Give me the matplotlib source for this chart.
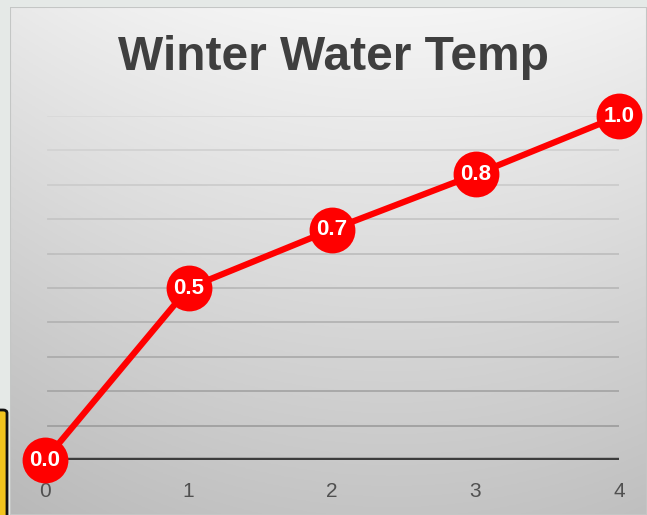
import matplotlib.pyplot as plt
import numpy as np
from matplotlib.patches import FancyBboxPatch, Rectangle

# data
weeks = [0, 1, 2, 3, 4]
temps = [0.0, 0.5, 0.67, 0.83, 1.0]
tick_labels = ['0', '1', '2', '3', '4']
title = 'Winter Water Temp'

W, H = 647, 515
fig = plt.figure(figsize=(W / 100, H / 100), dpi=100)
fig.patch.set_facecolor('#e5e9e7')

# slide panel with soft gradient
bg = fig.add_axes([10 / W, 0, (W - 10) / W, (H - 7) / H])
bg.set_axis_off()
yy, xx = np.mgrid[0:1:200j, 0:1:200j]
shade = 0.96 - 0.19 * yy - 0.05 * (np.abs(xx - 0.6) * 1.6) ** 2
bg.imshow(np.dstack([shade] * 3), aspect='auto', extent=[0, 1, 0, 1], origin='upper')
bg.add_patch(Rectangle((0, 0), 1, 1, fill=False, edgecolor='#c4c6c5', lw=1.5,
                       transform=bg.transAxes))

# yellow tab at bottom left
fig.patches.append(FancyBboxPatch((-6 / W, -10 / H), 13 / W, 115 / H,
                                  boxstyle='round,pad=0,rounding_size=0.006',
                                  facecolor='#f2c41e', edgecolor='#111111', lw=2,
                                  transform=fig.transFigure, figure=fig))

ax = fig.add_axes([45 / W, (H - 460) / H, 574 / W, 344 / H])
ax.set_facecolor('none')
ax.set_xlim(0, 4)
ax.set_ylim(0, 1)
for s in ax.spines.values():
    s.set_visible(False)

# gridlines
for k in range(1, 11):
    v = k / 10
    g = 0.60 + 0.25 * v
    ax.plot([0.02, 4], [v, v], color=(g, g, g), lw=1.3, zorder=1)
ax.plot([0, 4], [0, 0], color='#3c3c3c', lw=3.2, zorder=2, solid_capstyle='butt')

ax.plot(weeks, temps, color='#ff0000', lw=4.5, zorder=3, clip_on=False)
ax.plot(weeks, temps, 'o', ms=33, color='#ff0000', mec='#ff0000', mew=0,
        zorder=4, clip_on=False)
for x, y in zip(weeks, temps):
    ax.text(x, y, f'{y:.1f}', color='white', fontsize=16, fontweight='bold',
            ha='center', va='center', zorder=5, family='Liberation Sans')

ax.set_xticks(weeks)
ax.set_xticklabels(tick_labels, fontsize=15, color='#505050', family='Liberation Sans')
ax.tick_params(axis='x', length=0, pad=16)
ax.set_yticks([])

fig.text(333 / W, 1 - 57 / H, title, ha='center', va='center', fontsize=34.5,
         fontweight='bold', color='#3f3f3f', family='Liberation Sans')

fig.savefig('out.png', dpi=100, facecolor=fig.get_facecolor())
